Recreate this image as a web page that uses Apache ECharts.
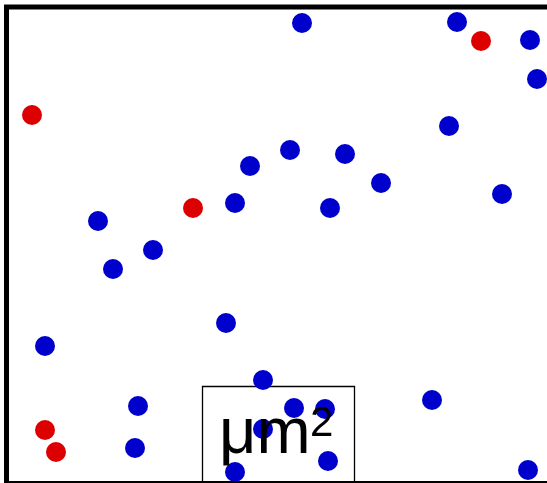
<!DOCTYPE html>
<html>
<head>
<meta charset="utf-8">
<script src="https://cdn.jsdelivr.net/npm/echarts@6/dist/echarts.min.js"></script>
<style>
  html, body { margin: 0; padding: 0; background: #fff; }
  #container { width: 547px; height: 483px; }
</style>
</head>
<body>
<div id="container"></div>
<script>
// point positions (x to the right, y downward)
var blueX = [302, 457, 530, 537, 449, 250, 290, 345, 381, 502, 235, 330, 98, 153, 113, 226, 45, 263, 138, 294, 325, 432, 135, 263, 328, 235, 528];
var blueY = [23, 22, 40, 79, 126, 166, 150, 154, 183, 194, 203, 208, 221, 250, 269, 323, 346, 380, 406, 408, 409, 400, 448, 429, 461, 472, 470];
var redX = [481, 32, 193, 45, 56];
var redY = [41, 115, 208, 430, 452];
var unitLabel = 'μm';
var unitPower = '2';

function pairs(xs, ys) {
    var out = [];
    for (var i = 0; i < xs.length; i++) out.push([xs[i], ys[i]]);
    return out;
}

var dom = document.getElementById('container');
var myChart = echarts.init(dom);

var option = {
    animation: false,
    grid: { left: 0, top: 0, width: 547, height: 483 },
    xAxis: { type: 'value', min: 0, max: 547, show: false },
    yAxis: { type: 'value', min: 0, max: 483, inverse: true, show: false },
    series: [
        {
            type: 'scatter',
            symbol: 'circle',
            symbolSize: 20,
            itemStyle: { color: '#0000cc', opacity: 1 },
            data: pairs(blueX, blueY),
            z: 3
        },
        {
            type: 'scatter',
            symbol: 'circle',
            symbolSize: 20,
            itemStyle: { color: '#dd0000', opacity: 1 },
            data: pairs(redX, redY),
            z: 3
        }
    ],
    graphic: [
        {
            type: 'rect',
            z: 1,
            shape: { x: 202.5, y: 386.5, width: 152, height: 110 },
            style: { fill: '#fff', stroke: '#000', lineWidth: 1.3 }
        },
        {
            type: 'rect',
            z: 20,
            shape: { x: 6.5, y: 7, width: 560, height: 476.5 },
            style: { fill: 'none', stroke: '#000', lineWidth: 5 }
        },
        {
            type: 'text',
            z: 20,
            x: 219,
            y: 435,
            style: {
                text: unitLabel,
                font: '65px "Liberation Sans"',
                fill: '#000',
                textAlign: 'left',
                textVerticalAlign: 'middle'
            }
        },
        {
            type: 'text',
            z: 20,
            x: 310,
            y: 424,
            style: {
                text: unitPower,
                font: '42px "Liberation Sans"',
                fill: '#000',
                textAlign: 'left',
                textVerticalAlign: 'middle'
            }
        }
    ]
};

myChart.setOption(option);
</script>
</body>
</html>
